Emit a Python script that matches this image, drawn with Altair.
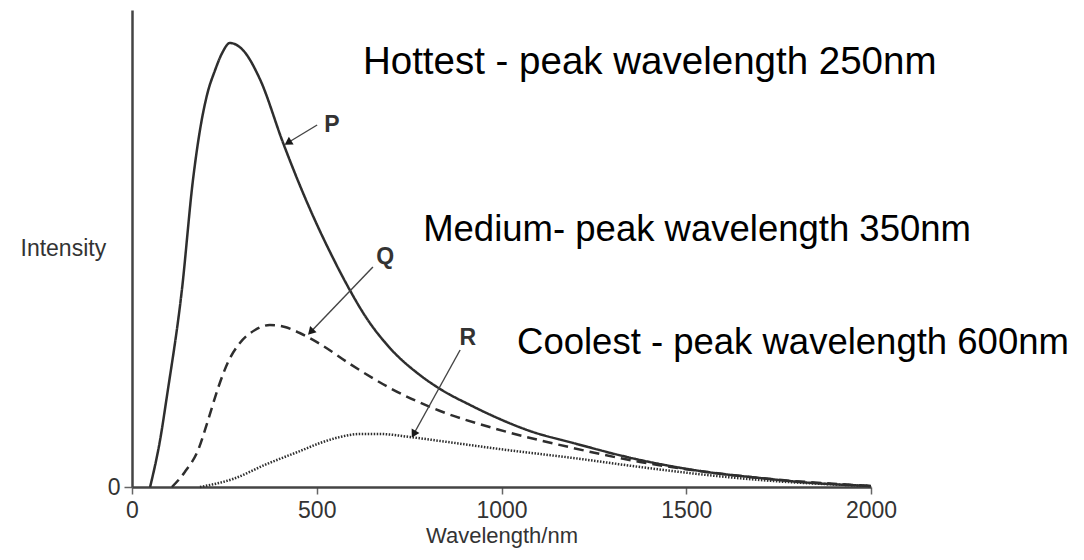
import altair as alt
import pandas as pd

# ---- curve data ----
curve_names = ["P", "Q", "R"]

wavelength_p = [49, 76, 95, 135, 165, 184, 203, 225, 244, 265, 300, 346, 409, 455, 501, 544, 582,
                631, 698, 779, 834, 915, 977, 1077, 1194, 1375, 1556, 1699, 1808, 2000]
intensity_p = [0, 47, 92, 197, 307, 357, 392, 417, 434, 444, 437, 408, 344, 301, 262, 229, 202,
               171, 139, 112, 98, 82, 71, 56, 44, 27, 15, 9, 5, 1]

wavelength_q = [108, 143, 179, 206, 233, 260, 292, 333, 373, 414, 454, 509, 590, 698, 834, 977,
                1194, 1375, 1556, 1699, 2000]
intensity_q = [0, 15, 37, 67, 99, 125, 144, 157, 162, 160, 154, 143, 123, 99, 76, 59, 39, 25,
               15, 9, 1]

wavelength_r = [184, 273, 365, 455, 509, 563, 617, 671, 752, 834, 1015, 1194, 1375, 1556,
                1699, 2000]
intensity_r = [0, 8, 23, 36, 44, 50, 53, 53, 50, 46, 37, 29, 20, 12, 7, 1]

x_ticks = [0, 500, 1000, 1500, 2000]
y_ticks = [0]

# ---- annotations ----
label_text = ["P", "Q", "R"]
label_x = [541, 685, 909]
label_y = [362, 230, 149]

arrow_x = [501, 652, 888]
arrow_y = [362, 220, 137]
head_x = [425, 486, 764]
head_y = [345, 156, 54]
head_angle = [238, 224, 209]

note_text = [
    "Hottest - peak wavelength 250nm",
    "Medium- peak wavelength 350nm",
    "Coolest - peak wavelength 600nm",
]
note_x = [625, 788, 1042]
note_y = [425, 257, 144]
note_size = [38.5, 36.5, 36.5]

rows = []
for name, xs, ys in zip(curve_names,
                        [wavelength_p, wavelength_q, wavelength_r],
                        [intensity_p, intensity_q, intensity_r]):
    for x, y in zip(xs, ys):
        rows.append({"curve": name, "wavelength": x, "intensity": y})
df = pd.DataFrame(rows)

arrows = pd.DataFrame({"x": arrow_x, "y": arrow_y, "x2": head_x, "y2": head_y,
                       "angle": head_angle, "label": label_text,
                       "lx": label_x, "ly": label_y})
notes = pd.DataFrame({"text": note_text, "x": note_x, "y": note_y, "size": note_size})

FONT = "Liberation Sans"
AX = "#333333"

x_scale = alt.Scale(domain=[0, 2000], nice=False, zero=False)
y_scale = alt.Scale(domain=[0, 477], nice=False)

lines = alt.Chart(df).mark_line(interpolate="monotone", color="#2e2e2e").encode(
    x=alt.X("wavelength:Q", scale=x_scale,
            axis=alt.Axis(values=x_ticks, format="d", title="Wavelength/nm",
                          labelFlush=False, labelOverlap=False,
                          labelFont=FONT, labelFontSize=23, labelColor=AX,
                          labelPadding=5, tickSize=7, tickWidth=1.5, tickColor="#666",
                          domainColor="#444", domainWidth=2.5, grid=False,
                          titleFont=FONT, titleFontSize=22, titleFontWeight="normal",
                          titleColor=AX, titlePadding=3)),
    y=alt.Y("intensity:Q", scale=y_scale,
            axis=alt.Axis(values=y_ticks, title="Intensity", titleAngle=0,
                          titleAlign="left", titleBaseline="middle",
                          titleX=-112, titleY=238,
                          titleFont=FONT, titleFontSize=23, titleFontWeight="normal",
                          titleColor=AX,
                          labelFont=FONT, labelFontSize=23, labelColor=AX,
                          labelPadding=4, tickSize=8, tickWidth=1.5, tickColor="#666",
                          domainColor="#444", domainWidth=2.5, grid=False)),
    strokeDash=alt.StrokeDash("curve:N",
                              scale=alt.Scale(domain=curve_names,
                                              range=[[1, 0], [10, 6], [1.5, 1.5]]),
                              legend=None),
    strokeWidth=alt.StrokeWidth("curve:N",
                                scale=alt.Scale(domain=curve_names, range=[2.5, 2.5, 2.2]),
                                legend=None),
)

rules = alt.Chart(arrows).mark_rule(color="#444", strokeWidth=1.4).encode(
    x="x:Q", y="y:Q", x2="x2:Q", y2="y2:Q"
)

heads = alt.Chart(arrows).mark_point(shape="triangle", filled=True, size=80,
                                     color="#1a1a1a", opacity=1).encode(
    x="x2:Q", y="y2:Q", angle=alt.Angle("angle:Q", scale=None)
)

labels = alt.Chart(arrows).mark_text(font=FONT, fontSize=23, fontWeight="bold",
                                     color="#333", align="center",
                                     baseline="middle").encode(
    x="lx:Q", y="ly:Q", text="label:N"
)

note_marks = alt.Chart(notes).mark_text(font=FONT, color="#000",
                                        align="left", baseline="middle").encode(
    x="x:Q", y="y:Q", text="text:N",
    size=alt.Size("size:Q", scale=None, legend=None),
)

chart = alt.layer(lines, rules, heads, labels, note_marks).properties(
    width=739, height=477,
    autosize=alt.AutoSizeParams(type="none"),
    padding={"left": 124, "top": 2, "right": 205, "bottom": 64},
).configure_view(stroke=None)

chart.save("out.html", embed_options={"renderer": "svg", "actions": False})
